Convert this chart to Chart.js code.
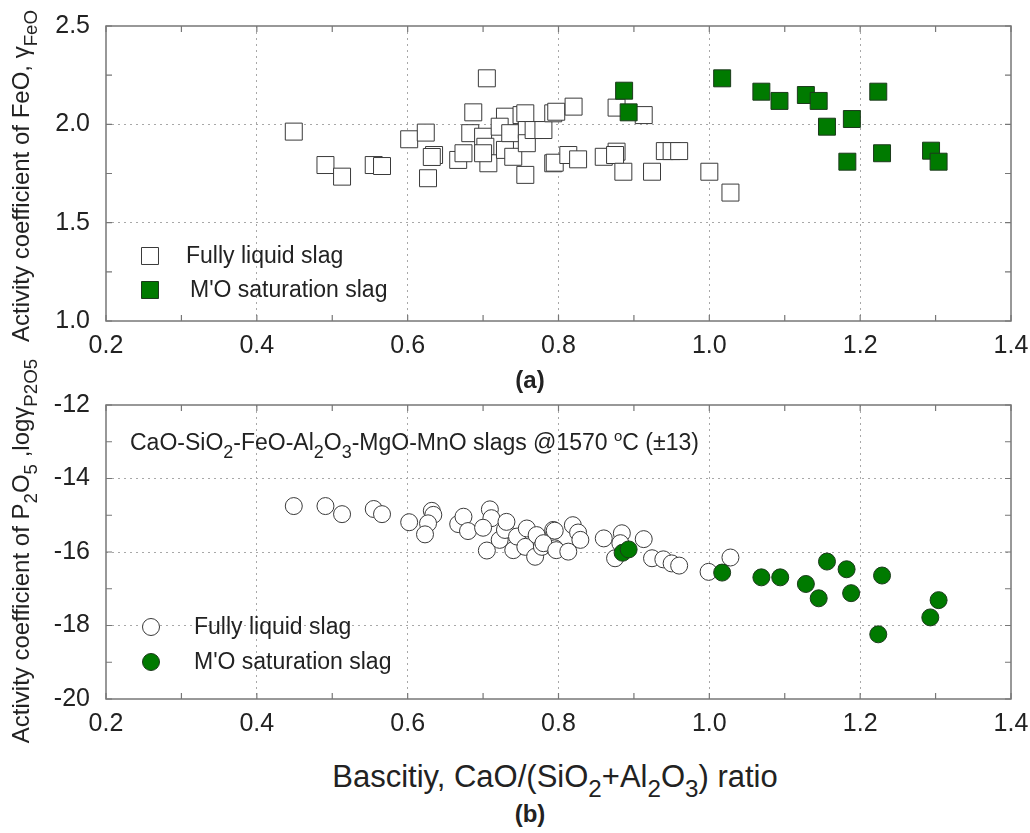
<!DOCTYPE html>
<html>
<head>
<meta charset="utf-8">
<script src="https://cdn.jsdelivr.net/npm/chart.js@4.4.0/dist/chart.umd.min.js"></script>
<style>
  body { margin: 0; width: 1030px; height: 833px; background: #fff; position: relative; overflow: hidden;
         font-family: "Liberation Sans", Arial, sans-serif; color: #222; }
  #wrapA { position: absolute; left: 0; top: 0; width: 1030px; height: 400px; }
  #wrapB { position: absolute; left: 0; top: 380px; width: 1030px; height: 373px; }
  .txt { position: absolute; white-space: nowrap; line-height: 1; transform: translate(-50%, -50%); }
  .ytitle { position: absolute; white-space: nowrap; line-height: 1; font-size: 24px; transform: translate(-50%, -50%) rotate(-90deg); }
  sub { font-size: 78%; vertical-align: -0.45em; line-height: 0; }
  sup { font-size: 65%; vertical-align: 0.6em; line-height: 0; }
</style>
</head>
<body>
<div id="wrapA"><canvas id="chartA" width="1030" height="400"></canvas></div>
<div id="wrapB"><canvas id="chartB" width="1030" height="373"></canvas></div>

<div class="ytitle" style="left:21px; top:176px;">Activity coefficient of FeO, &gamma;<sub>FeO</sub></div>
<div class="ytitle" style="left:21px; top:551px;">Activity coefficient of P<sub>2</sub>O<sub>5</sub> ,log&gamma;<sub>P2O5</sub></div>
<div class="txt" style="left:530px; top:380px; font-size:24px; font-weight:bold;">(a)</div>
<div class="txt" style="left:555px; top:776px; font-size:31px;">Bascitiy, CaO/(SiO<sub>2</sub>+Al<sub>2</sub>O<sub>3</sub>) ratio</div>
<div class="txt" style="left:530px; top:814px; font-size:24px; font-weight:bold;">(b)</div>
<div class="txt" style="left:130px; top:442px; font-size:23px; transform: translate(0, -50%);">CaO-SiO<sub>2</sub>-FeO-Al<sub>2</sub>O<sub>3</sub>-MgO-MnO slags @1570 <sup>o</sup>C (&plusmn;13)</div>

<script>
// ---- data ----
// (a) activity coefficient of FeO vs basicity
const xLiquidA = [0.449, 0.491, 0.513, 0.555, 0.566, 0.602, 0.624, 0.627, 0.635, 0.632,
                  0.687, 0.705, 0.667, 0.674, 0.683, 0.700, 0.703, 0.707, 0.700, 0.729,
                  0.722, 0.729, 0.736, 0.740, 0.751, 0.756, 0.758, 0.758, 0.756, 0.767,
                  0.780, 0.793, 0.793, 0.797, 0.820, 0.795, 0.813, 0.826, 0.860, 0.877,
                  0.875, 0.877, 0.886, 0.913, 0.924, 0.941, 0.950, 0.960, 1.000, 1.028];
const yLiquidA = [1.963, 1.793, 1.734, 1.793, 1.788, 1.924, 1.958, 1.726, 1.844, 1.834,
                  2.061, 2.234, 1.819, 1.853, 1.955, 1.937, 1.886, 1.802, 1.853, 2.039,
                  1.988, 1.870, 1.955, 1.835, 2.047, 2.056, 1.971, 1.904, 1.743, 1.971,
                  1.971, 2.056, 1.802, 2.064, 2.090, 1.805, 1.844, 1.822, 1.835, 1.861,
                  1.844, 2.085, 1.759, 2.047, 1.759, 1.864, 1.864, 1.864, 1.759, 1.653];
const xSatA = [0.887, 0.893, 1.017, 1.069, 1.093, 1.128, 1.145, 1.156, 1.189, 1.183, 1.224, 1.229, 1.294, 1.304];
const ySatA = [2.171, 2.061, 2.234, 2.166, 2.119, 2.149, 2.119, 1.988, 2.027, 1.810, 2.166, 1.853, 1.866, 1.810];

// (b) log activity coefficient of P2O5 vs basicity
const xLiquidB = [0.449, 0.491, 0.513, 0.555, 0.566, 0.602, 0.632, 0.634, 0.627, 0.623,
                  0.667, 0.674, 0.680, 0.709, 0.711, 0.700, 0.705, 0.722, 0.729, 0.731,
                  0.740, 0.745, 0.756, 0.758, 0.769, 0.771, 0.778, 0.793, 0.795, 0.780,
                  0.795, 0.797, 0.813, 0.819, 0.826, 0.829, 0.860, 0.884, 0.882, 0.875,
                  0.913, 0.924, 0.939, 0.950, 0.960, 0.999, 1.028];
const yLiquidB = [-14.75, -14.75, -14.97, -14.83, -14.97, -15.19, -14.88, -14.99, -15.22, -15.52,
                  -15.24, -15.04, -15.43, -14.84, -15.08, -15.34, -15.96, -15.67, -15.40, -15.18,
                  -15.95, -15.58, -15.86, -15.36, -16.13, -15.54, -15.86, -15.40, -15.90, -15.76,
                  -15.42, -15.95, -15.99, -15.27, -15.47, -15.67, -15.63, -15.49, -15.76, -16.17,
                  -15.65, -16.17, -16.20, -16.31, -16.37, -16.54, -16.15];
const xSatB = [0.885, 0.893, 1.017, 1.069, 1.094, 1.128, 1.145, 1.156, 1.182, 1.188, 1.224, 1.229, 1.293, 1.304];
const ySatB = [-16.02, -15.93, -16.56, -16.69, -16.69, -16.87, -17.26, -16.26, -16.47, -17.12, -18.24, -16.64, -17.78, -17.31];

// axis ticks
const xTickValues = [0.2, 0.4, 0.6, 0.8, 1.0, 1.2, 1.4];
const yTickValuesA = [1.0, 1.5, 2.0, 2.5];
const yTickValuesB = [-20, -18, -16, -14, -12];

const legendLabels = ['Fully liquid slag', "M'O saturation slag"];

// ---- helpers ----
function toPoints(xs, ys) {
  return xs.map((x, i) => ({ x: x, y: ys[i] }));
}

const FONT = '"Liberation Sans", Arial, sans-serif';
const GREEN = '#007a00';

// frame + inward tick marks (major and minor)
const framePlugin = {
  id: 'frame',
  beforeDatasetsDraw(chart) {
    const { ctx, chartArea: a, scales } = chart;
    const len = 6;
    ctx.save();
    ctx.strokeStyle = '#777';
    ctx.lineWidth = 1.5;
    ctx.strokeRect(a.left, a.top, a.right - a.left, a.bottom - a.top);
    ctx.lineWidth = 1.2;
    ctx.beginPath();
    const xv = scales.x.ticks.map(t => t.value);
    for (let i = 0; i < xv.length; i++) {
      const vals = [xv[i]];
      if (i < xv.length - 1) vals.push((xv[i] + xv[i + 1]) / 2);
      vals.forEach(v => {
        const px = scales.x.getPixelForValue(v);
        ctx.moveTo(px, a.bottom); ctx.lineTo(px, a.bottom - len);
        ctx.moveTo(px, a.top); ctx.lineTo(px, a.top + len);
      });
    }
    const yv = scales.y.ticks.map(t => t.value);
    for (let i = 0; i < yv.length; i++) {
      const vals = [yv[i]];
      if (i < yv.length - 1) vals.push((yv[i] + yv[i + 1]) / 2);
      vals.forEach(v => {
        const py = scales.y.getPixelForValue(v);
        ctx.moveTo(a.left, py); ctx.lineTo(a.left + len, py);
        ctx.moveTo(a.right, py); ctx.lineTo(a.right - len, py);
      });
    }
    ctx.stroke();
    ctx.restore();
  }
};

// legend drawn inside the plot, lower left
const insideLegend = {
  id: 'insideLegend',
  afterDatasetsDraw(chart, args, opts) {
    const { ctx } = chart;
    ctx.save();
    chart.data.datasets.forEach((ds, i) => {
      const y = opts.y[i];
      ctx.fillStyle = ds.backgroundColor;
      ctx.strokeStyle = ds.borderColor;
      ctx.lineWidth = ds.borderWidth;
      Chart.helpers.drawPoint(ctx, {
        pointStyle: ds.pointStyle, radius: ds.pointRadius, rotation: 0, borderWidth: ds.borderWidth
      }, opts.markerX, y);
      ctx.fillStyle = '#222';
      ctx.font = opts.fontSize + 'px ' + FONT;
      ctx.textBaseline = 'middle';
      ctx.textAlign = 'left';
      ctx.fillText(ds.label, opts.textX[i], y + 1);
    });
    ctx.restore();
  }
};

function makeOptions(yTicks, yDecimals, padTop, xAxisHeight, legendOpts) {
  return {
    responsive: false,
    animation: false,
    layout: { padding: { top: padTop, right: 19, left: 0, bottom: 0 } },
    plugins: {
      legend: { display: false },
      tooltip: { enabled: false },
      insideLegend: legendOpts
    },
    scales: {
      x: {
        type: 'linear',
        min: xTickValues[0],
        max: xTickValues[xTickValues.length - 1],
        afterBuildTicks: s => { s.ticks = xTickValues.map(v => ({ value: v })); },
        afterFit: s => { s.height = xAxisHeight; s.paddingLeft = 0; s.paddingRight = 0; },
        ticks: {
          callback: v => v.toFixed(1),
          color: '#222', padding: 10, maxRotation: 0,
          font: { family: FONT, size: 25 }
        },
        grid: {
          drawTicks: false, lineWidth: 1,
          color: c => (c.tick && (c.tick.value === xTickValues[0] || c.tick.value === xTickValues[xTickValues.length - 1])) ? 'rgba(0,0,0,0)' : '#a8a8a8'
        },
        border: { display: false, dash: [2, 4] }
      },
      y: {
        type: 'linear',
        min: yTicks[0],
        max: yTicks[yTicks.length - 1],
        afterBuildTicks: s => { s.ticks = yTicks.map(v => ({ value: v })); },
        afterFit: s => { s.width = 106; s.paddingTop = 0; s.paddingBottom = 0; },
        ticks: {
          callback: v => v.toFixed(yDecimals),
          color: '#222', padding: 16,
          font: { family: FONT, size: 25 }
        },
        grid: {
          drawTicks: false, lineWidth: 1,
          color: c => (c.tick && (c.tick.value === yTicks[0] || c.tick.value === yTicks[yTicks.length - 1])) ? 'rgba(0,0,0,0)' : '#a8a8a8'
        },
        border: { display: false, dash: [2, 4] }
      }
    }
  };
}

function makeDatasets(xl, yl, xs, ys, style, radius) {
  return [
    {
      label: legendLabels[0], data: toPoints(xl, yl), order: 2,
      pointStyle: style, pointRadius: radius, pointHoverRadius: radius,
      backgroundColor: '#ffffff', borderColor: '#3a3a3a', borderWidth: 1, showLine: false
    },
    {
      label: legendLabels[1], data: toPoints(xs, ys), order: 1,
      pointStyle: style, pointRadius: radius, pointHoverRadius: radius,
      backgroundColor: GREEN, borderColor: '#1c3a1c', borderWidth: 1, showLine: false
    }
  ];
}

const optsA = makeOptions(yTickValuesA, 1, 26, 79,
  { markerX: 150, y: [256, 290], textX: [186, 190], fontSize: 23 });
const optsB = makeOptions(yTickValuesB, 0, 25, 54,
  { markerX: 151, y: [247, 282], textX: [194, 194], fontSize: 23 });

new Chart(document.getElementById('chartA'), {
  type: 'scatter',
  data: { datasets: makeDatasets(xLiquidA, yLiquidA, xSatA, ySatA, 'rect', 12) },
  options: optsA,
  plugins: [framePlugin, insideLegend]
});

new Chart(document.getElementById('chartB'), {
  type: 'scatter',
  data: { datasets: makeDatasets(xLiquidB, yLiquidB, xSatB, ySatB, 'circle', 8.5) },
  options: optsB,
  plugins: [framePlugin, insideLegend]
});
</script>
</body>
</html>
